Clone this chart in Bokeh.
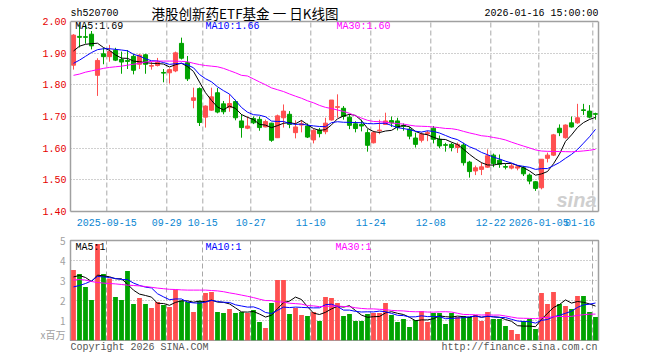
from bokeh.plotting import figure
from bokeh.models import (FixedTicker, Label, Range1d, ColumnDataSource, NumeralTickFormatter,
                          CustomJSTickFormatter, LinearAxis, Span)
from bokeh.layouts import column
from bokeh.embed import file_html
from bokeh.resources import INLINE

# ---------------- data ----------------
code = "sh520700"
title = "港股创新药ETF基金 一 日K线图"
stamp = "2026-01-16 15:00:00"
ma_texts = ["MA5:1.69", "MA10:1.66", "MA30:1.60"]
vol_ma_texts = ["MA5:1", "MA10:1", "MA30:1"]
vol_unit = "x百万"
footer_left = "Copyright 2026 SINA.COM"
footer_right = "http://finance.sina.com.cn"

tick_labels = ["2025-09-15", "09-29", "10-15", "10-27", "11-10", "11-24",
               "12-08", "12-22", "2026-01-05", "01-16"]
tick_index = [6, 16, 22, 30, 40, 50, 60, 70, 78, 87]

opens = [1.862, 1.953, 1.952, 1.960, 1.830, 1.898, 1.889, 1.909, 1.880, 1.877,
         1.890, 1.865, 1.895, 1.859, 1.861, 1.839, 1.838, 1.844, 1.931, 1.870,
         1.751, 1.788, 1.698, 1.720, 1.775, 1.740, 1.728, 1.747, 1.686, 1.663,
         1.694, 1.691, 1.667, 1.679, 1.633, 1.696, 1.707, 1.649, 1.673, 1.670,
         1.626, 1.657, 1.652, 1.689, 1.729, 1.726, 1.698, 1.677, 1.675, 1.649,
         1.617, 1.655, 1.675, 1.687, 1.686, 1.672, 1.660, 1.632, 1.625, 1.645,
         1.663, 1.628, 1.611, 1.612, 1.602, 1.610, 1.556, 1.528, 1.533, 1.540,
         1.578, 1.562, 1.542, 1.537, 1.537, 1.538, 1.515, 1.494, 1.475, 1.568,
         1.578, 1.663, 1.633, 1.680, 1.680, 1.721, 1.717, 1.709]
highs = [1.960, 1.990, 1.990, 1.970, 1.884, 1.917, 1.926, 1.917, 1.905, 1.910,
         1.898, 1.897, 1.898, 1.872, 1.885, 1.850, 1.852, 1.905, 1.949, 1.891,
         1.791, 1.792, 1.735, 1.791, 1.790, 1.749, 1.770, 1.753, 1.707, 1.700,
         1.700, 1.700, 1.690, 1.680, 1.706, 1.738, 1.717, 1.688, 1.688, 1.678,
         1.660, 1.664, 1.696, 1.752, 1.770, 1.733, 1.707, 1.685, 1.690, 1.660,
         1.655, 1.690, 1.712, 1.700, 1.696, 1.678, 1.667, 1.649, 1.650, 1.655,
         1.670, 1.640, 1.617, 1.617, 1.618, 1.617, 1.560, 1.545, 1.555, 1.596,
         1.583, 1.580, 1.551, 1.550, 1.545, 1.544, 1.520, 1.496, 1.565, 1.586,
         1.645, 1.675, 1.675, 1.700, 1.740, 1.740, 1.736, 1.712]
lows = [1.848, 1.918, 1.930, 1.912, 1.765, 1.865, 1.873, 1.875, 1.835, 1.850,
        1.833, 1.850, 1.835, 1.848, 1.858, 1.808, 1.804, 1.840, 1.880, 1.812,
        1.726, 1.670, 1.665, 1.718, 1.710, 1.707, 1.715, 1.688, 1.633, 1.660,
        1.676, 1.655, 1.666, 1.620, 1.632, 1.665, 1.663, 1.631, 1.650, 1.632,
        1.615, 1.634, 1.644, 1.687, 1.696, 1.690, 1.660, 1.650, 1.653, 1.589,
        1.615, 1.644, 1.675, 1.667, 1.656, 1.655, 1.628, 1.602, 1.618, 1.622,
        1.615, 1.600, 1.589, 1.590, 1.585, 1.545, 1.507, 1.515, 1.515, 1.538,
        1.540, 1.538, 1.533, 1.533, 1.530, 1.512, 1.486, 1.465, 1.470, 1.555,
        1.575, 1.638, 1.630, 1.665, 1.677, 1.705, 1.694, 1.690]
closes = [1.957, 1.950, 1.950, 1.923, 1.877, 1.889, 1.905, 1.878, 1.872, 1.874,
          1.846, 1.894, 1.865, 1.861, 1.871, 1.837, 1.848, 1.901, 1.884, 1.819,
          1.759, 1.681, 1.733, 1.762, 1.714, 1.715, 1.741, 1.696, 1.665, 1.670,
          1.680, 1.665, 1.684, 1.625, 1.702, 1.717, 1.675, 1.667, 1.677, 1.635,
          1.656, 1.646, 1.679, 1.752, 1.731, 1.700, 1.672, 1.662, 1.670, 1.609,
          1.649, 1.657, 1.686, 1.680, 1.665, 1.669, 1.638, 1.612, 1.644, 1.649,
          1.628, 1.607, 1.609, 1.602, 1.612, 1.554, 1.526, 1.538, 1.541, 1.576,
          1.551, 1.549, 1.540, 1.544, 1.541, 1.519, 1.496, 1.473, 1.565, 1.578,
          1.642, 1.649, 1.673, 1.667, 1.696, 1.719, 1.698, 1.707]
volumes = [3.52, 3.32, 2.67, 2.02, 4.82, 3.32, 3.10, 2.17, 2.02, 3.47,
           1.82, 2.12, 1.82, 1.62, 1.92, 1.77, 1.67, 2.55, 2.00, 1.93,
           1.42, 1.97, 2.37, 2.42, 1.42, 1.37, 1.57, 1.37, 1.42, 1.37,
           1.52, 0.93, 0.62, 1.87, 3.02, 3.02, 1.32, 1.62, 1.27, 1.22,
           1.42, 0.97, 2.17, 2.12, 1.87, 1.22, 1.32, 0.97, 0.97, 1.32,
           1.37, 1.37, 1.87, 1.27, 0.92, 1.07, 0.67, 1.02, 1.47, 0.92,
           1.37, 1.37, 0.82, 1.37, 1.17, 1.22, 1.17, 1.27, 0.97, 1.42,
           1.07, 1.07, 0.72, 0.52, 0.32, 0.97, 1.07, 0.57, 2.37, 1.82,
           2.42, 1.82, 1.72, 1.57, 2.22, 2.22, 1.42, 1.17]

# moving-average values for the first bars (history before the window)
ma5_head = [1.907, 1.922, 1.928, 1.930]
ma10_head = [1.868, 1.878, 1.890, 1.902, 1.911, 1.914, 1.914, 1.912, 1.910]
ma30_head = [1.830, 1.834, 1.840, 1.844, 1.848, 1.852, 1.855, 1.857, 1.859, 1.862,
             1.865, 1.868, 1.872, 1.874, 1.875, 1.875, 1.875, 1.875, 1.874, 1.873,
             1.868, 1.864, 1.861, 1.859, 1.857, 1.852, 1.845, 1.838, 1.830]
vma5_head = [3.18, 3.25, 3.15, 2.95]
vma10_head = [2.68, 2.75, 2.85, 2.98, 3.20, 3.18, 3.15, 3.10, 3.05]
vma30_head = [3.02, 3.05, 3.02, 2.95, 2.90, 2.87, 2.85, 2.83, 2.80, 2.77,
              2.75, 2.73, 2.70, 2.66, 2.62, 2.59, 2.56, 2.55, 2.53, 2.52,
              2.52, 2.52, 2.52, 2.50, 2.48, 2.44, 2.38, 2.33, 2.27]

# ---------------- derived ----------------
n = len(closes)
idx = list(range(n))


def moving(vals, win, head):
    out = list(head)
    for i in range(win - 1, n):
        out.append(sum(vals[i - win + 1:i + 1]) / win)
    return out


RED = "#ff5050"
GREEN = "#00a300"
colors = [RED if c >= o else GREEN for o, c in zip(opens, closes)]

src = ColumnDataSource(dict(
    x=idx, o=opens, h=highs, l=lows, c=closes, v=volumes, col=colors,
    top=[max(o, c) for o, c in zip(opens, closes)],
    bot=[min(o, c) for o, c in zip(opens, closes)],
    ma5=moving(closes, 5, ma5_head), ma10=moving(closes, 10, ma10_head),
    ma30=moving(closes, 30, ma30_head),
    vma5=moving(volumes, 5, vma5_head), vma10=moving(volumes, 10, vma10_head),
    vma30=moving(volumes, 30, vma30_head),
))

MONO = "Liberation Mono"
BOX = "#a0a0a0"
W = 660
LEFT, RIGHT = 70, 62          # frame from page x 70 to 598
X0, X1 = -0.5, n - 0.5
PX_PER_X = (W - LEFT - RIGHT) / n
grid_x = [t - 0.45 for t in tick_index]
P_LO, P_HI = 1.40, 2.00
YPX = 190 / (P_HI - P_LO)     # px per price unit
HEAD = 21                     # header band (px) above the price box


def fx(px):  # page pixel -> x data
    return (px - LEFT) / PX_PER_X + X0


def bare_axis(ax):
    ax.major_tick_line_color = None
    ax.minor_tick_line_color = None
    ax.major_tick_out = 0
    ax.major_tick_in = 0


# ---------------- price panel (with header band inside the frame) ----------------
p = figure(width=W, height=HEAD + 190 + 20, x_range=Range1d(X0, X1),
           y_range=Range1d(P_LO, P_HI + HEAD / YPX),
           output_backend="svg", toolbar_location=None,
           min_border_left=LEFT, min_border_right=RIGHT, min_border_top=0, min_border_bottom=20,
           background_fill_color="white", border_fill_color="white", outline_line_color=None)
p.xgrid.visible = False
p.ygrid.ticker = FixedTicker(ticks=[1.5, 1.6, 1.7, 1.8, 1.9])
p.ygrid.grid_line_color = BOX
p.ygrid.grid_line_dash = "1 2"

ya = p.yaxis[0]
bare_axis(ya)
ya.ticker = FixedTicker(ticks=[1.4, 1.5, 1.6, 1.7, 1.8, 1.9, 2.0])
ya.formatter = NumeralTickFormatter(format="0.00")
ya.bounds = (P_LO, P_HI)
ya.axis_line_color = BOX
ya.axis_line_width = 1.5
ya.major_label_standoff = 4
ya.major_label_text_color = "#e60000"
ya.major_label_text_font = MONO
ya.major_label_text_font_size = "10px"

ra = LinearAxis(ticker=FixedTicker(ticks=[]), bounds=(P_LO, P_HI), axis_line_color=BOX,
                axis_line_width=1.5, major_label_text_font_size="0px")
bare_axis(ra)
p.add_layout(ra, "right")
p.add_layout(Span(location=P_HI, dimension="width", line_color=BOX, line_width=1.5))

label_pos = []
for t, lab in zip(grid_x, tick_labels):
    half = len(lab) * 3.0 / PX_PER_X
    label_pos.append(min(t, X1 - 0.6 - half))
xa = p.xaxis[0]
bare_axis(xa)
xa.ticker = FixedTicker(ticks=label_pos)
xa.formatter = CustomJSTickFormatter(args=dict(labels=tick_labels), code="return labels[index];")
xa.axis_line_color = BOX
xa.axis_line_width = 1.5
xa.major_label_standoff = 7
xa.major_label_text_color = "#0a86d2"
xa.major_label_text_font = MONO
xa.major_label_text_font_size = "10px"

p.segment(x0=grid_x, y0=[P_LO] * len(grid_x), x1=grid_x, y1=[P_HI] * len(grid_x),
          line_color="#a8a8a8", line_dash="5 3", line_width=1)
p.segment(x0="x", y0="l", x1="x", y1="h", color="col", line_width=1, source=src)
p.vbar(x="x", top="top", bottom="bot", width=0.68, fill_color="col", line_color="col",
       line_width=1, source=src)
p.line("x", "ma5", color="black", line_width=1, source=src)
p.line("x", "ma10", color="#0000ff", line_width=1, source=src)
p.line("x", "ma30", color="#ff00ff", line_width=1, source=src)

leg_y = P_HI - 5.3 / YPX
for txt, px, colr in zip(ma_texts, [74.7, 205, 336], ["black", "#0000ff", "#ff00ff"]):
    p.add_layout(Label(x=fx(px), y=leg_y, text=txt, text_font=MONO, text_font_size="10px",
                       text_color=colr, text_align="left", text_baseline="middle"))

hdr_y = P_HI + 8.3 / YPX
p.add_layout(Label(x=X0, y=hdr_y, text=code, text_font=MONO, text_font_size="10px",
                   text_color="black", text_align="left", text_baseline="middle"))
p.add_layout(Label(x=fx(244.5), y=P_HI + 8.8 / YPX, text=title, text_font="Noto Sans CJK SC",
                   text_font_size="13.5px", text_color="black", text_align="center",
                   text_baseline="middle"))
p.add_layout(Label(x=X1, y=hdr_y, text=stamp, text_font=MONO, text_font_size="10px",
                   text_color="black", text_align="right", text_baseline="middle"))

p.add_layout(Label(x=fx(596), y=P_LO + 12 / YPX, text="sina", text_font="Liberation Sans",
                   text_font_size="20px", text_font_style="bold italic", text_color="#cfcfcf",
                   text_align="right", text_baseline="middle"))

# ---------------- volume panel ----------------
q = figure(width=W, height=110, x_range=p.x_range, y_range=Range1d(0, 5),
           output_backend="svg", toolbar_location=None,
           min_border_left=LEFT, min_border_right=RIGHT, min_border_top=9, min_border_bottom=1,
           background_fill_color="white", border_fill_color="white",
           outline_line_color=BOX, outline_line_width=1.5)
q.xaxis.visible = False
q.ygrid.ticker = FixedTicker(ticks=[1, 2, 3, 4])
q.ygrid.grid_line_color = BOX
q.ygrid.grid_line_dash = "1 2"
q.xgrid.ticker = FixedTicker(ticks=grid_x)
q.xgrid.grid_line_color = "#a8a8a8"
q.xgrid.grid_line_dash = "5 3"
qa = q.yaxis[0]
bare_axis(qa)
qa.axis_line_color = None
qa.ticker = FixedTicker(ticks=[0, 1, 2, 3, 4, 5])
qa.formatter = CustomJSTickFormatter(args=dict(unit=vol_unit),
                                     code="return tick == 0 ? unit : tick.toFixed(0);")
qa.major_label_standoff = 5
qa.major_label_text_color = "#a0a0a0"
qa.major_label_text_font = "Noto Sans CJK SC"
qa.major_label_text_font_size = "10px"

q.vbar(x="x", top="v", bottom=0, width=0.8, fill_color="col", line_color=None, source=src)
q.line("x", "vma5", color="black", line_width=1, source=src)
q.line("x", "vma10", color="#0000ff", line_width=1, source=src)
q.line("x", "vma30", color="#ff00ff", line_width=1, source=src)

VPX = 20.0
vleg_y = 5 - 6.5 / VPX
for txt, px, colr in zip(vol_ma_texts, [75, 205, 335], ["black", "#0000ff", "#ff00ff"]):
    q.add_layout(Label(x=fx(px), y=vleg_y, text=txt, text_font=MONO, text_font_size="10px",
                       text_color=colr, text_align="left", text_baseline="middle"))

# ---------------- footer ----------------
ftr = figure(width=W, height=17, x_range=Range1d(LEFT, W - RIGHT), y_range=Range1d(358, 341),
             x_axis_type=None, y_axis_type=None, output_backend="svg", toolbar_location=None,
             min_border_left=LEFT, min_border_right=RIGHT, min_border_top=0, min_border_bottom=0,
             outline_line_color=None, background_fill_color="white", border_fill_color="white")
ftr.grid.visible = False
ftr.add_layout(Label(x=LEFT, y=346.5, text=footer_left, text_font=MONO, text_font_size="10px",
                     text_color="#555555", text_align="left", text_baseline="middle"))
ftr.add_layout(Label(x=597, y=346.5, text=footer_right, text_font=MONO, text_font_size="10px",
                     text_color="#555555", text_align="right", text_baseline="middle"))

layout = column(p, q, ftr, spacing=0)
open("out.html", "w").write(file_html(layout, INLINE))
